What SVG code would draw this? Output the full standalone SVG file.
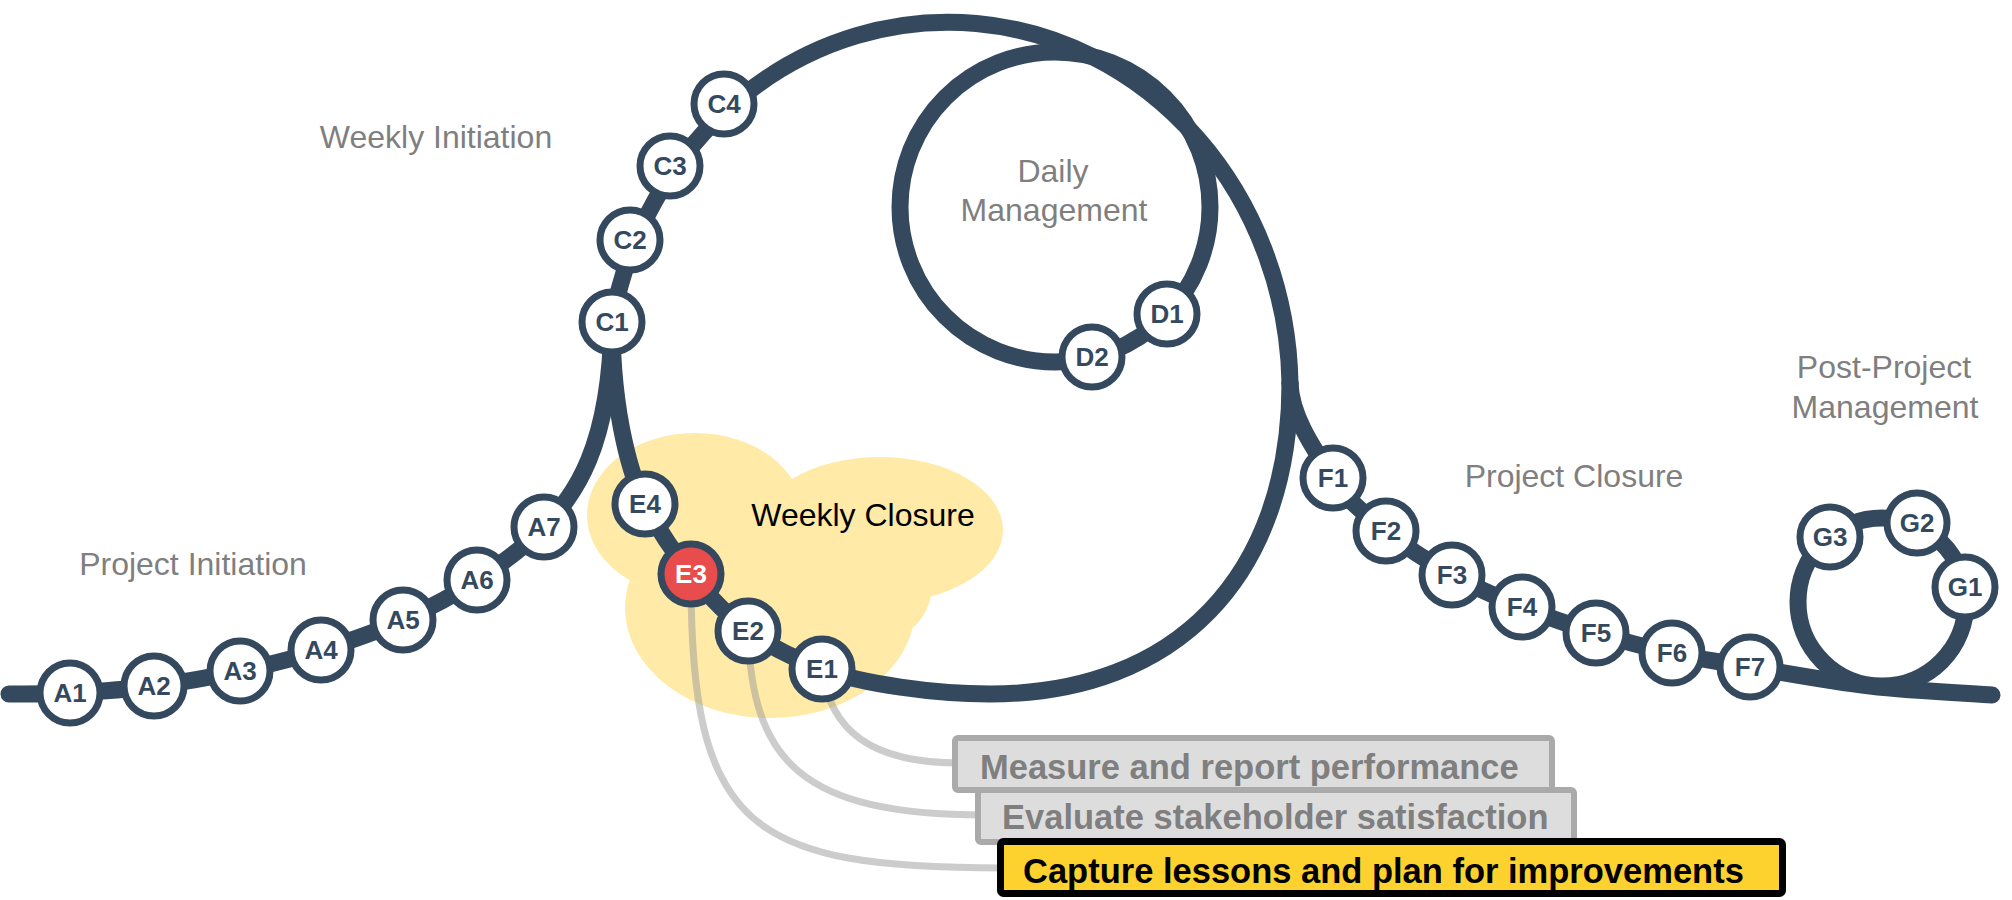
<svg xmlns="http://www.w3.org/2000/svg" width="2012" height="900" viewBox="0 0 2012 900">
<style>
.track{fill:none;stroke:#34495E;stroke-width:17;stroke-linecap:round;stroke-linejoin:round}
.conn{fill:none;stroke:#999999;stroke-opacity:0.5;stroke-width:7;stroke-linecap:round}
.node circle{fill:#FFFFFF;stroke:#34495E;stroke-width:7}
.node text{font-family:"Liberation Sans",Arial,sans-serif;font-weight:bold;font-size:26px;fill:#34495E;text-anchor:middle}
.node.hot circle{fill:#E84C4C}
.node.hot text{fill:#FFFFFF}
.lbl{font-family:"Liberation Sans",Arial,sans-serif;font-size:32px;fill:#7F7F7F;text-anchor:middle}
.cloud{fill:#FFEAA7}
.box{fill:#DDDDDD;stroke:#AAAAAA;stroke-width:6}
.boxhot{fill:#FDD22E;stroke:#000000;stroke-width:7}
.btxt{font-family:"Liberation Sans",Arial,sans-serif;font-weight:bold;font-size:34.5px;fill:#7F7F7F}
</style>

<g id="weekly-closure-cloud" class="cloud">
  <ellipse cx="695" cy="515" rx="108" ry="82"/>
  <ellipse cx="880" cy="530" rx="123" ry="73"/>
  <ellipse cx="770" cy="608" rx="145" ry="110"/>
  <ellipse cx="880" cy="585" rx="52" ry="55"/>
</g>

<g id="connectors">
  <path class="conn" d="M 822,669 C 830,730 870,763 960,763"/>
  <path class="conn" d="M 748,631 C 752,760 800,815 985,815"/>
  <path class="conn" d="M 691,574 C 690,830 750,868 1005,868"/>

  <path class="track" d="M 9,694 C 19.2,693.8 45.8,694.3 70,693 C 94.2,691.7 125.7,689.7 154,686 C 182.3,682.3 212.2,677 240,671 C 267.8,665 293.8,658.5 321,650 C 348.2,641.5 377,631.7 403,620 C 429,608.3 453.5,595.5 477,580 C 500.5,564.5 524.8,547.3 544,527 C 574,495 610,450 612,322"/>
  <path class="track" d="M 612,322 A 342 368 0 0 1 1290,383"/>
  <path class="track" d="M 1290,383 C 1290,576 1176,694 990,694 C 935,694 862,684 822,669 C 796.7,659.5 769.8,646.8 748,631 C 726.2,615.2 708.2,595.2 691,574 C 673.8,552.8 656.5,526.3 645,504 C 633.5,481.7 612,420 612,322"/>
  <path class="track" d="M 1290,383 C 1291,418 1317,453.3 1333,478 C 1349,502.7 1366.2,514.8 1386,531 C 1405.8,547.2 1429.3,562.3 1452,575 C 1474.7,587.7 1498,597.3 1522,607 C 1546,616.7 1571,625.3 1596,633 C 1621,640.7 1646.3,647.3 1672,653 C 1697.7,658.7 1717,661.5 1750,667 C 1783,672.5 1829.7,681.3 1870,686 C 1910.3,690.7 1971.7,693.5 1992,695"/>
  <circle class="track" cx="1055" cy="207" r="155"/>
  <circle class="track" cx="1882" cy="602" r="84"/>
</g>

<g id="labels">
  <text class="lbl" x="436" y="148">Weekly Initiation</text>
  <text class="lbl" x="193" y="575">Project Initiation</text>
  <text class="lbl" x="1053" y="182">Daily</text>
  <text class="lbl" x="1054" y="221">Management</text>
  <text class="lbl" x="863" y="526" fill="#000000" style="fill:#000000">Weekly Closure</text>
  <text class="lbl" x="1574" y="487">Project Closure</text>
  <text class="lbl" x="1884" y="378">Post-Project</text>
  <text class="lbl" x="1885" y="418">Management</text>
</g>

<g id="A1" class="node" transform="translate(70,693)"><circle r="30"/><text y="9">A1</text></g>
<g id="A2" class="node" transform="translate(154,686)"><circle r="30"/><text y="9">A2</text></g>
<g id="A3" class="node" transform="translate(240,671)"><circle r="30"/><text y="9">A3</text></g>
<g id="A4" class="node" transform="translate(321,650)"><circle r="30"/><text y="9">A4</text></g>
<g id="A5" class="node" transform="translate(403,620)"><circle r="30"/><text y="9">A5</text></g>
<g id="A6" class="node" transform="translate(477,580)"><circle r="30"/><text y="9">A6</text></g>
<g id="A7" class="node" transform="translate(544,527)"><circle r="30"/><text y="9">A7</text></g>

<g id="C1" class="node" transform="translate(612,322)"><circle r="30"/><text y="9">C1</text></g>
<g id="C2" class="node" transform="translate(630,240)"><circle r="30"/><text y="9">C2</text></g>
<g id="C3" class="node" transform="translate(670,166)"><circle r="30"/><text y="9">C3</text></g>
<g id="C4" class="node" transform="translate(724,104)"><circle r="30"/><text y="9">C4</text></g>

<g id="D1" class="node" transform="translate(1167,314)"><circle r="30"/><text y="9">D1</text></g>
<g id="D2" class="node" transform="translate(1092,357)"><circle r="30"/><text y="9">D2</text></g>

<g id="E1" class="node" transform="translate(822,669)"><circle r="30"/><text y="9">E1</text></g>
<g id="E2" class="node" transform="translate(748,631)"><circle r="30"/><text y="9">E2</text></g>
<g id="E3" class="node hot" transform="translate(691,574)"><circle r="30"/><text y="9">E3</text></g>
<g id="E4" class="node" transform="translate(645,504)"><circle r="30"/><text y="9">E4</text></g>

<g id="F1" class="node" transform="translate(1333,478)"><circle r="30"/><text y="9">F1</text></g>
<g id="F2" class="node" transform="translate(1386,531)"><circle r="30"/><text y="9">F2</text></g>
<g id="F3" class="node" transform="translate(1452,575)"><circle r="30"/><text y="9">F3</text></g>
<g id="F4" class="node" transform="translate(1522,607)"><circle r="30"/><text y="9">F4</text></g>
<g id="F5" class="node" transform="translate(1596,633)"><circle r="30"/><text y="9">F5</text></g>
<g id="F6" class="node" transform="translate(1672,653)"><circle r="30"/><text y="9">F6</text></g>
<g id="F7" class="node" transform="translate(1750,667)"><circle r="30"/><text y="9">F7</text></g>

<g id="G1" class="node" transform="translate(1965,587)"><circle r="30"/><text y="9">G1</text></g>
<g id="G2" class="node" transform="translate(1917,523)"><circle r="30"/><text y="9">G2</text></g>
<g id="G3" class="node" transform="translate(1830,537)"><circle r="30"/><text y="9">G3</text></g>

<g id="box-measure">
  <rect class="box" x="955" y="738" width="597" height="52" rx="3"/>
  <text class="btxt" x="980" y="779">Measure and report performance</text>
</g>
<g id="box-evaluate">
  <rect class="box" x="978" y="790" width="596" height="52" rx="3"/>
  <text class="btxt" x="1002" y="829">Evaluate stakeholder satisfaction</text>
</g>
<g id="box-capture">
  <rect class="boxhot" x="1000.5" y="841.5" width="782" height="52" rx="3"/>
  <text class="btxt" x="1023" y="883" style="fill:#000000">Capture lessons and plan for improvements</text>
</g>
</svg>
